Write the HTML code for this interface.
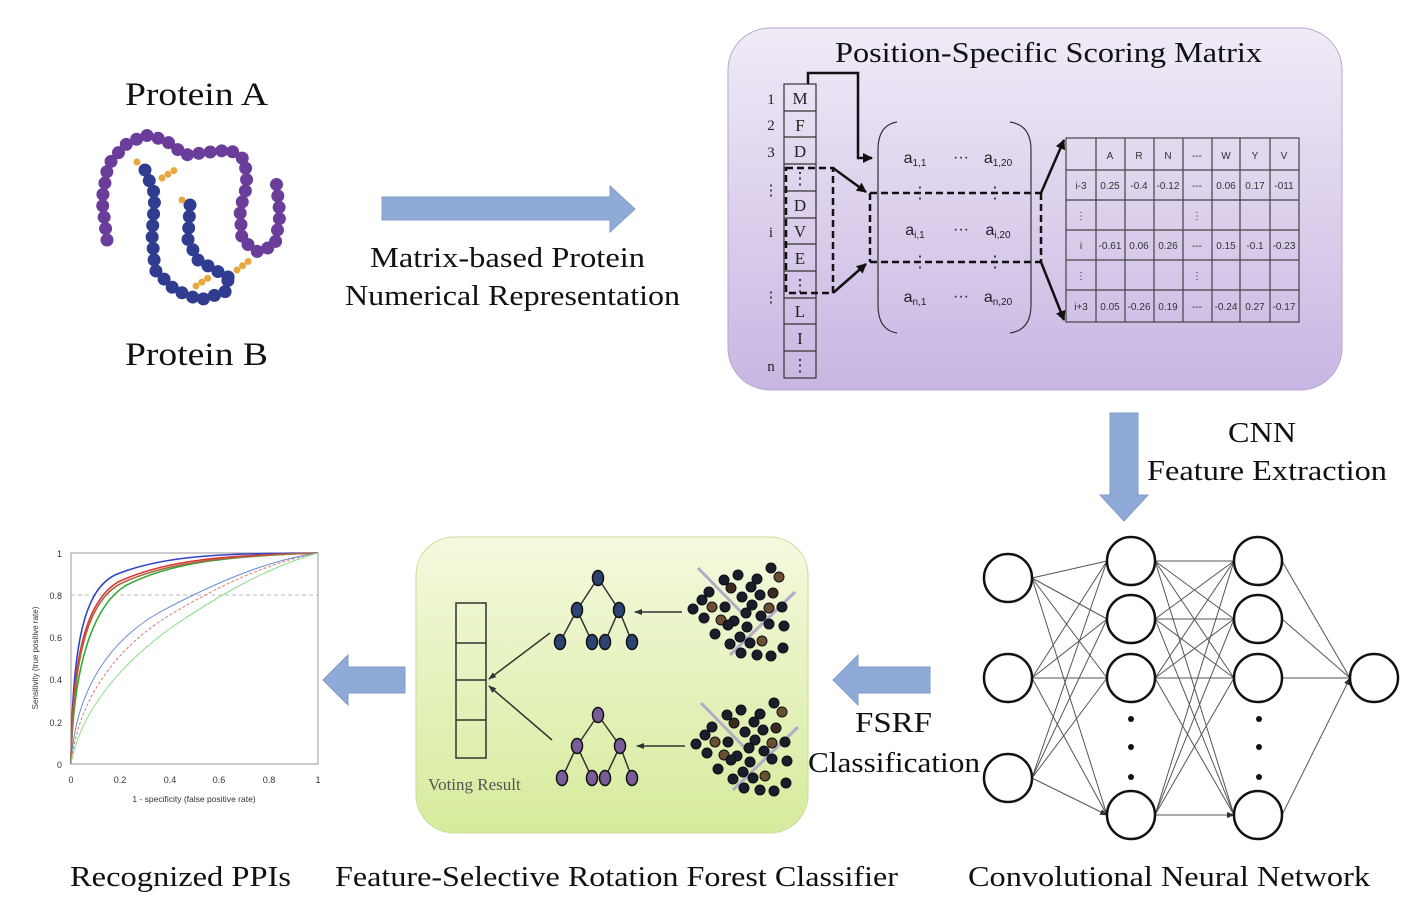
<!DOCTYPE html>
<html><head><meta charset="utf-8"><style>html,body{margin:0;padding:0;background:#fff}svg{display:block}</style></head><body>
<svg width="1414" height="912" viewBox="0 0 1414 912" xmlns="http://www.w3.org/2000/svg" font-family="'Liberation Serif',serif">
<defs>
<linearGradient id="gp" x1="0" y1="0" x2="0" y2="1"><stop offset="0" stop-color="#f0ebf7"/><stop offset="1" stop-color="#c8b6e2"/></linearGradient>
<linearGradient id="gg" x1="0" y1="0" x2="0" y2="1"><stop offset="0" stop-color="#f4f9de"/><stop offset="1" stop-color="#d6eb9c"/></linearGradient>
<marker id="ah" markerWidth="10" markerHeight="10" refX="9" refY="5" orient="auto" markerUnits="userSpaceOnUse"><path d="M0,0 L10,5 L0,10 Z" fill="#111"/></marker>
<marker id="as" markerWidth="8" markerHeight="8" refX="7" refY="4" orient="auto" markerUnits="userSpaceOnUse"><path d="M0,1 L8,4 L0,7 Z" fill="#333"/></marker>
<g id="sc" fill="#1a1d2a" stroke="#0d0f18" stroke-width="1">
<line x1="698" y1="568" x2="747" y2="618" stroke="#b3abc8" stroke-width="3"/>
<line x1="730" y1="655" x2="795" y2="592" stroke="#b3abc8" stroke-width="3"/>
<circle cx="771" cy="568" r="5"/><circle cx="779" cy="577" r="5" fill="#6a5030"/><circle cx="738" cy="575" r="5"/><circle cx="724" cy="580" r="5"/><circle cx="757" cy="579" r="5"/><circle cx="731" cy="588" r="5" fill="#3a2a20"/><circle cx="751" cy="587" r="5"/><circle cx="709" cy="592" r="5"/><circle cx="742" cy="597" r="5"/><circle cx="760" cy="595" r="5"/><circle cx="773" cy="593" r="5" fill="#3a2a20"/><circle cx="702" cy="600" r="5"/><circle cx="712" cy="607" r="5" fill="#6a5030"/><circle cx="693" cy="609" r="5"/><circle cx="725" cy="607" r="5"/><circle cx="752" cy="605" r="5"/><circle cx="769" cy="608" r="5" fill="#6a5030"/><circle cx="782" cy="607" r="5"/><circle cx="704" cy="618" r="5"/><circle cx="721" cy="620" r="5" fill="#6a5030"/><circle cx="734" cy="621" r="5"/><circle cx="746" cy="613" r="5"/><circle cx="761" cy="616" r="5"/><circle cx="728" cy="625" r="5"/><circle cx="747" cy="627" r="5"/><circle cx="769" cy="624" r="5"/><circle cx="784" cy="626" r="5"/><circle cx="715" cy="634" r="5"/><circle cx="740" cy="637" r="5"/><circle cx="762" cy="641" r="5" fill="#6a5030"/><circle cx="750" cy="643" r="5"/><circle cx="730" cy="644" r="5"/><circle cx="783" cy="648" r="5"/><circle cx="741" cy="653" r="5"/><circle cx="757" cy="655" r="5"/><circle cx="771" cy="656" r="5"/>
</g>
</defs>

<!-- Protein -->
<text x="125" y="105" font-size="33" textLength="143" lengthAdjust="spacingAndGlyphs" fill="#111">Protein A</text>
<text x="125" y="365" font-size="33" textLength="143" lengthAdjust="spacingAndGlyphs" fill="#111">Protein B</text>
<g fill="none" stroke-linecap="round">
<path d="M107,240 L102,200 L108,165 L125,145 L145,135 L165,140 L185,155 L210,152 L230,150 L245,160 L247,185 L240,210 L242,240 L258,252 L275,245 L280,215 L276,180" stroke="#6b3d9a" stroke-width="13" stroke-dasharray="0 11.5"/>
<path d="M145,170 L155,195 L152,235 L155,270 L175,290 L200,300 L225,292 L228,280" stroke="#2f3c8f" stroke-width="13" stroke-dasharray="0 11.5"/>
<path d="M190,205 L188,240 L198,260 L215,270 L230,278" stroke="#2f3c8f" stroke-width="13" stroke-dasharray="0 11.5"/>
<path d="M137,162 L140,165 M162,178 L178,168 M196,286 L208,278 M237,270 L250,260 M182,200 L184,200 M108,250 L108,250 M272,168 L272,168" stroke="#e8a840" stroke-width="7" stroke-dasharray="0 7"/>
</g>

<!-- top arrow -->
<path d="M382,197 H610 V186 L635,209 L610,232 V220 H382 Z" fill="#8faad6" stroke="#7f9cc9"/>
<text x="370" y="267" font-size="29" textLength="275" lengthAdjust="spacingAndGlyphs" fill="#111">Matrix-based Protein</text>
<text x="345" y="305" font-size="29" textLength="335" lengthAdjust="spacingAndGlyphs" fill="#111">Numerical Representation</text>

<!-- PSSM box -->
<rect x="728" y="28" width="614" height="362" rx="42" fill="url(#gp)" stroke="#b7a6d4"/>
<text x="835" y="62" font-size="28" textLength="427" lengthAdjust="spacingAndGlyphs" fill="#111">Position-Specific Scoring Matrix</text>
<g font-size="15" fill="#222" text-anchor="middle">
<text x="771" y="104">1</text><text x="771" y="130">2</text><text x="771" y="157">3</text><text x="771" y="195">⋮</text><text x="771" y="237">i</text><text x="771" y="302">⋮</text><text x="771" y="371">n</text>
</g>
<g fill="none" stroke="#333" stroke-width="1.2">
<rect x="784" y="84" width="32" height="294"/>
<path d="M784,111H816M784,137H816M784,164H816M784,191H816M784,218H816M784,244H816M784,271H816M784,298H816M784,324H816M784,351H816"/>
</g>
<g font-size="17" fill="#222" text-anchor="middle">
<text x="800" y="104">M</text><text x="800" y="131">F</text><text x="800" y="157">D</text><text x="800" y="184">⋮</text><text x="800" y="211">D</text><text x="800" y="237">V</text><text x="800" y="264">E</text><text x="800" y="291">⋮</text><text x="800" y="317">L</text><text x="800" y="344">I</text><text x="800" y="371">⋮</text>
</g>
<g fill="none" stroke="#111" stroke-width="2.5">
<path d="M808,84 V73 H858 V158 H872" marker-end="url(#ah)"/>
<path d="M786,168 H833 V293 H786 Z" stroke-dasharray="7 4"/>
<path d="M833,168 L866,192" marker-end="url(#ah)"/>
<path d="M833,293 L866,264" marker-end="url(#ah)"/>
<path d="M870,193 V262 M870,193 H1041 M870,262 H1041 M1041,193 V262" stroke-dasharray="7 4"/>
<path d="M1041,193 L1064,140" marker-end="url(#ah)"/>
<path d="M1041,262 L1064,320" marker-end="url(#ah)"/>
</g>
<g fill="none" stroke="#333" stroke-width="1.2">
<path d="M897,122 Q878,125 878,150 V305 Q878,330 897,333"/>
<path d="M1010,122 Q1031,125 1031,150 V305 Q1031,330 1010,333"/>
</g>
<g font-size="16" fill="#222" font-family="'Liberation Sans',sans-serif" text-anchor="middle">
<text x="915" y="163">a<tspan font-size="10" dy="3">1,1</tspan></text><text x="961" y="162">···</text><text x="998" y="163">a<tspan font-size="10" dy="3">1,20</tspan></text>
<text x="915" y="235">a<tspan font-size="10" dy="3">i,1</tspan></text><text x="961" y="234">···</text><text x="998" y="235">a<tspan font-size="10" dy="3">i,20</tspan></text>
<text x="915" y="302">a<tspan font-size="10" dy="3">n,1</tspan></text><text x="961" y="301">···</text><text x="998" y="302">a<tspan font-size="10" dy="3">n,20</tspan></text>
<text x="920" y="198">⋮</text><text x="995" y="198">⋮</text><text x="920" y="267">⋮</text><text x="995" y="267">⋮</text>
</g>
<g fill="none" stroke="#444" stroke-width="1.2">
<rect x="1066" y="138" width="233" height="184"/>
<path d="M1096,138V322M1125,138V322M1154,138V322M1183,138V322M1212,138V322M1240,138V322M1270,138V322M1066,170H1299M1066,200H1299M1066,230H1299M1066,260H1299M1066,290H1299"/>
</g>
<g font-size="10" fill="#333" font-family="'Liberation Sans',sans-serif" text-anchor="middle">
<text x="1110" y="159">A</text><text x="1139" y="159">R</text><text x="1168" y="159">N</text><text x="1197" y="159">---</text><text x="1226" y="159">W</text><text x="1255" y="159">Y</text><text x="1284" y="159">V</text>
<text x="1081" y="189">i-3</text><text x="1110" y="189">0.25</text><text x="1139" y="189">-0.4</text><text x="1168" y="189">-0.12</text><text x="1197" y="189">---</text><text x="1226" y="189">0.06</text><text x="1255" y="189">0.17</text><text x="1284" y="189">-011</text>
<text x="1081" y="219">⋮</text><text x="1197" y="219">⋮</text>
<text x="1081" y="249">i</text><text x="1110" y="249">-0.61</text><text x="1139" y="249">0.06</text><text x="1168" y="249">0.26</text><text x="1197" y="249">---</text><text x="1226" y="249">0.15</text><text x="1255" y="249">-0.1</text><text x="1284" y="249">-0.23</text>
<text x="1081" y="279">⋮</text><text x="1197" y="279">⋮</text>
<text x="1081" y="310">i+3</text><text x="1110" y="310">0.05</text><text x="1139" y="310">-0.26</text><text x="1168" y="310">0.19</text><text x="1197" y="310">---</text><text x="1226" y="310">-0.24</text><text x="1255" y="310">0.27</text><text x="1284" y="310">-0.17</text>
</g>

<!-- down arrow -->
<path d="M1110,413 H1138 V495 H1148 L1124,521 L1100,495 H1110 Z" fill="#8faad6" stroke="#7f9cc9"/>
<text x="1228" y="442" font-size="29" textLength="68" lengthAdjust="spacingAndGlyphs" fill="#111">CNN</text>
<text x="1147" y="480" font-size="29" textLength="240" lengthAdjust="spacingAndGlyphs" fill="#111">Feature Extraction</text>

<!-- Neural net -->
<g stroke="#555" stroke-width="1" marker-end="url(#as)">
<path d="M1032,578L1107,561M1032,578L1107,619M1032,578L1107,678M1032,578L1107,815M1032,678L1107,561M1032,678L1107,619M1032,678L1107,678M1032,678L1107,815M1032,778L1107,561M1032,778L1107,619M1032,778L1107,678M1032,778L1107,815"/>
<path d="M1155,561L1234,561M1155,561L1234,619M1155,561L1234,678M1155,561L1234,815M1155,619L1234,561M1155,619L1234,619M1155,619L1234,678M1155,619L1234,815M1155,678L1234,561M1155,678L1234,619M1155,678L1234,678M1155,678L1234,815M1155,815L1234,561M1155,815L1234,619M1155,815L1234,678M1155,815L1234,815"/>
<path d="M1282,561L1350,678M1282,619L1350,678M1282,678L1350,678M1282,815L1350,678"/>
</g>
<g fill="#fff" stroke="#111" stroke-width="2.5">
<circle cx="1008" cy="578" r="24"/><circle cx="1008" cy="678" r="24"/><circle cx="1008" cy="778" r="24"/>
<circle cx="1131" cy="561" r="24"/><circle cx="1131" cy="619" r="24"/><circle cx="1131" cy="678" r="24"/><circle cx="1131" cy="815" r="24"/>
<circle cx="1258" cy="561" r="24"/><circle cx="1258" cy="619" r="24"/><circle cx="1258" cy="678" r="24"/><circle cx="1258" cy="815" r="24"/>
<circle cx="1374" cy="678" r="24"/>
</g>
<g fill="#111"><circle cx="1131" cy="719" r="3"/><circle cx="1131" cy="747" r="3"/><circle cx="1131" cy="777" r="3"/><circle cx="1259" cy="719" r="3"/><circle cx="1259" cy="747" r="3"/><circle cx="1259" cy="777" r="3"/></g>

<!-- FSRF arrow -->
<path d="M930,667 H858 V655 L833,680 L858,705 V693 H930 Z" fill="#8faad6" stroke="#7f9cc9"/>
<text x="855" y="732" font-size="29" textLength="77" lengthAdjust="spacingAndGlyphs" fill="#111">FSRF</text>
<text x="808" y="772" font-size="29" textLength="172" lengthAdjust="spacingAndGlyphs" fill="#111">Classification</text>

<!-- Green box -->
<rect x="416" y="537" width="392" height="296" rx="38" fill="url(#gg)" stroke="#c8dc9a"/>
<g fill="none" stroke="#333" stroke-width="1.5">
<rect x="456" y="603" width="30" height="155"/><path d="M456,643H486M456,680H486M456,720H486"/>
<path d="M598,578L577,610M598,578L619,610M577,610L560,642M577,610L592,642M619,610L605,642M619,610L632,642"/>
<path d="M598,715L577,746M598,715L620,746M577,746L562,778M577,746L592,778M620,746L605,778M620,746L632,778"/>
</g>
<g stroke="#333" stroke-width="1.5" fill="none" marker-end="url(#as)">
<path d="M682,612H635"/><path d="M685,746H637"/><path d="M550,633L489,679"/><path d="M552,740L489,686"/>
</g>
<g fill="#2c4372" stroke="#111" stroke-width="1.5">
<ellipse cx="598" cy="578" rx="5.5" ry="7.5"/><ellipse cx="577" cy="610" rx="5.5" ry="7.5"/><ellipse cx="619" cy="610" rx="5.5" ry="7.5"/><ellipse cx="560" cy="642" rx="5.5" ry="7.5"/><ellipse cx="592" cy="642" rx="5.5" ry="7.5"/><ellipse cx="605" cy="642" rx="5.5" ry="7.5"/><ellipse cx="632" cy="642" rx="5.5" ry="7.5"/>
</g>
<g fill="#7a5c98" stroke="#111" stroke-width="1.5">
<ellipse cx="598" cy="715" rx="5.5" ry="7.5"/><ellipse cx="577" cy="746" rx="5.5" ry="7.5"/><ellipse cx="620" cy="746" rx="5.5" ry="7.5"/><ellipse cx="562" cy="778" rx="5.5" ry="7.5"/><ellipse cx="592" cy="778" rx="5.5" ry="7.5"/><ellipse cx="605" cy="778" rx="5.5" ry="7.5"/><ellipse cx="632" cy="778" rx="5.5" ry="7.5"/>
</g>
<use href="#sc"/>
<use href="#sc" transform="translate(3,135)"/>
<text x="428" y="790" font-size="17" fill="#555">Voting Result</text>

<!-- left arrow -->
<path d="M405,667 H348 V655 L323,680 L348,705 V693 H405 Z" fill="#8faad6" stroke="#7f9cc9"/>

<!-- ROC -->
<g font-family="'Liberation Sans',sans-serif" font-size="9" fill="#333">
<rect x="71" y="553" width="247" height="211" fill="none" stroke="#999"/>
<line x1="71" y1="595" x2="318" y2="595" stroke="#bbb" stroke-dasharray="4 3"/>
<text x="62" y="557" text-anchor="end">1</text><text x="62" y="599" text-anchor="end">0.8</text><text x="62" y="641" text-anchor="end">0.6</text><text x="62" y="683" text-anchor="end">0.4</text><text x="62" y="726" text-anchor="end">0.2</text><text x="62" y="768" text-anchor="end">0</text>
<text x="71" y="783" text-anchor="middle">0</text><text x="120" y="783" text-anchor="middle">0.2</text><text x="170" y="783" text-anchor="middle">0.4</text><text x="219" y="783" text-anchor="middle">0.6</text><text x="269" y="783" text-anchor="middle">0.8</text><text x="318" y="783" text-anchor="middle">1</text>
<text x="194" y="802" text-anchor="middle" font-size="8.5">1 - specificity (false positive rate)</text>
<text transform="translate(38,658) rotate(-90)" text-anchor="middle" font-size="8">Sensitivity (true positive rate)</text>
</g>
<g fill="none" stroke-width="1.6">
<path d="M71,764 C72,640 85,590 115,575 C160,556 220,553 318,553" stroke="#3344cc"/>
<path d="M71,764 C72,650 88,600 118,582 C165,560 225,555 318,553" stroke="#d33"/>
<path d="M71,764 C73,660 95,605 125,586 C170,562 230,556 318,553" stroke="#3a3"/>
<path d="M71,764 C73,650 90,600 120,584 C165,562 228,556 318,553" stroke="#a64"/>
<path d="M71,764 C75,690 110,640 160,612 C220,580 270,560 318,553" stroke="#6688dd" stroke-width="1"/>
<path d="M71,764 C78,700 115,650 165,618 C222,583 272,562 318,553" stroke="#d77" stroke-width="1" stroke-dasharray="3 2"/>
<path d="M71,764 C80,710 125,660 175,625 C230,588 275,565 318,553" stroke="#8d8" stroke-width="1"/>
</g>

<!-- Bottom labels -->
<text x="70" y="886" font-size="29" textLength="221" lengthAdjust="spacingAndGlyphs" fill="#111">Recognized PPIs</text>
<text x="335" y="886" font-size="29" textLength="563" lengthAdjust="spacingAndGlyphs" fill="#111">Feature-Selective Rotation Forest Classifier</text>
<text x="968" y="886" font-size="29" textLength="402" lengthAdjust="spacingAndGlyphs" fill="#111">Convolutional Neural Network</text>
</svg>
</body></html>
